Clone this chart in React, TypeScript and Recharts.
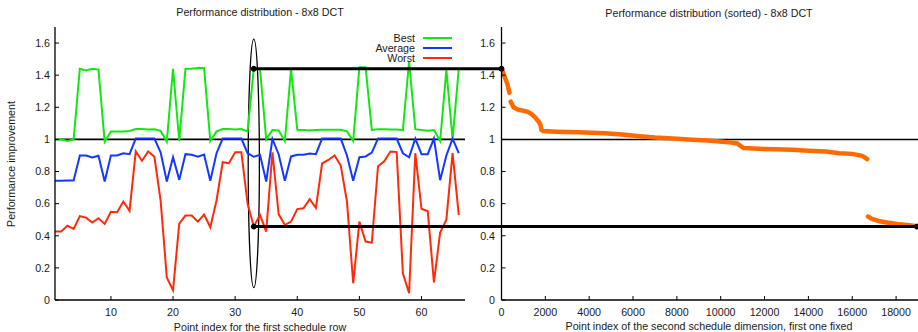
import React from 'react';
import {
  ComposedChart,
  Line,
  XAxis,
  YAxis,
  ReferenceLine,
  ReferenceDot,
  ReferenceArea,
  Legend,
} from 'recharts';

// ---------- data (left panel) ----------
const pointIndex = [
  1, 2, 3, 4, 5, 6, 7, 8, 9, 10, 11, 12, 13, 14, 15, 16, 17, 18, 19, 20, 21, 22,
  23, 24, 25, 26, 27, 28, 29, 30, 31, 32, 33, 34, 35, 36, 37, 38, 39, 40, 41, 42,
  43, 44, 45, 46, 47, 48, 49, 50, 51, 52, 53, 54, 55, 56, 57, 58, 59, 60, 61, 62,
  63, 64, 65, 66,
];
const bestValues = [
  1.0, 1.0, 0.99, 1.0, 1.44, 1.43, 1.44, 1.435, 0.985, 1.05, 1.05, 1.05, 1.052, 1.065,
  1.065, 1.062, 1.063, 1.053, 0.985, 1.44, 0.99, 1.44, 1.44, 1.445, 1.445, 0.99, 1.05,
  1.065, 1.065, 1.062, 1.065, 1.05, 1.44, 1.44, 1.0, 1.058, 1.055, 0.99, 1.44, 1.06,
  1.058, 1.055, 1.058, 1.06, 1.06, 1.06, 1.06, 1.05, 0.99, 1.45, 1.45, 1.058, 1.064,
  1.064, 1.062, 1.062, 1.058, 1.485, 1.064, 1.058, 1.054, 1.058, 0.99, 1.434, 1.0, 1.44,
];
const averageValues = [
  0.742, 0.742, 0.744, 0.744, 0.9, 0.9, 0.887, 0.898, 0.738, 0.9, 0.9, 0.914, 0.908,
  1.005, 1.005, 1.005, 1.005, 0.92, 0.738, 0.889, 0.748, 0.908, 0.904, 0.892, 0.906,
  0.742, 0.914, 1.005, 1.005, 1.005, 1.005, 0.914, 0.892, 0.904, 0.738, 1.003, 0.908,
  0.742, 0.894, 0.904, 0.904, 0.912, 0.908, 1.005, 1.005, 1.005, 1.005, 0.9, 0.742,
  0.889, 0.894, 0.918, 1.005, 1.005, 1.005, 1.005, 0.914, 0.889, 1.005, 0.908, 0.908,
  1.005, 0.746, 0.9, 1.005, 0.914,
];
const worstValues = [
  0.426, 0.426, 0.463, 0.443, 0.522, 0.513, 0.482, 0.509, 0.474, 0.549, 0.547, 0.613,
  0.555, 0.925, 0.867, 0.925, 0.892, 0.62, 0.14, 0.06, 0.475, 0.526, 0.526, 0.488,
  0.532, 0.453, 0.62, 0.858, 0.852, 0.92, 0.92, 0.6, 0.457, 0.53, 0.426, 0.92, 0.535,
  0.467, 0.488, 0.566, 0.571, 0.628, 0.574, 0.85, 0.872, 0.9, 0.837, 0.613, 0.104,
  0.488, 0.364, 0.357, 0.833, 0.864, 0.925, 0.921, 0.166, 0.042, 0.914, 0.568, 0.553,
  0.11, 0.42, 0.5, 0.915, 0.528,
];
const seriesNames = ['Best', 'Average', 'Worst'];
const leftXTicks = [10, 20, 30, 40, 50, 60];
const yTicks = [0, 0.2, 0.4, 0.6, 0.8, 1, 1.2, 1.4, 1.6];

// ---------- data (right panel, sorted) ----------
const sortedIndexHigh = [
  0, 40, 120, 200, 280, 360, 390, 420, 550, 750, 1000, 1200, 1400, 1550, 1700, 1780,
  1820, 1900, 2500, 3500, 4700, 5500, 6300, 7000, 8000, 8700, 9400, 9940, 10500, 10750,
  10900, 11050, 12000, 13270, 14000, 14800, 15400, 16000, 16450, 16600, 16680,
];
const sortedValueHigh = [
  1.44, 1.43, 1.4, 1.37, 1.34, 1.29, null, 1.235, 1.2, 1.185, 1.178, 1.172, 1.155,
  1.135, 1.11, 1.09, 1.06, 1.052, 1.048, 1.044, 1.039, 1.03, 1.02, 1.012, 1.004, 0.998,
  0.993, 0.987, 0.98, 0.975, 0.96, 0.946, 0.94, 0.935, 0.93, 0.925, 0.914, 0.91, 0.898,
  0.885, 0.877,
];
const sortedIndexLow = [16720, 16900, 17200, 17500, 17820, 18200, 18600, 18950];
const sortedValueLow = [0.52, 0.505, 0.492, 0.484, 0.478, 0.471, 0.466, 0.46];
const rightXTicks = [0, 2000, 4000, 6000, 8000, 10000, 12000, 14000, 16000, 18000];

// highlighted point (index 33) and its best / worst values
const markIndex = 33;
const markBest = 1.44;
const markWorst = 0.457;
const ellipseY = [0.077, 1.625];

// ---------- layout ----------
const FONT = '"Liberation Sans", Arial, Helvetica, sans-serif';
const FS = 10.7;
const TXT = '#1a1a1a';
const GREEN = '#14e614';
const BLUE = '#1438ff';
const RED = '#ff2a0a';
const ORANGE = '#ff6a00';

const LEFT_W = 503;
const LEFT_X0 = 55;
const LEFT_X1 = 465;
const LEFT_DOMAIN: [number, number] = [1, 67];
const RIGHT_LEFT = 460;
const RIGHT_W = 458;
const RIGHT_AXIS_W = 41.5;
const RIGHT_DOMAIN: [number, number] = [0, 19000];
const TOP = 27;
const XAXIS_H = 32;
const Y_DOMAIN: [number, number] = [0, 1.7];

// left-panel data coordinate that lies on the right panel's y axis
const rightAxisPx = RIGHT_LEFT + RIGHT_AXIS_W;
const bridgeX =
  LEFT_DOMAIN[0] +
  ((rightAxisPx - LEFT_X0) * (LEFT_DOMAIN[1] - LEFT_DOMAIN[0])) / (LEFT_X1 - LEFT_X0);

const leftRows = pointIndex.map((idx, i) => ({
  idx,
  best: bestValues[i],
  average: averageValues[i],
  worst: worstValues[i],
}));
const highRows = sortedIndexHigh.map((x, i) => ({ x, v: sortedValueHigh[i] }));
const lowRows = sortedIndexLow.map((x, i) => ({ x, v: sortedValueLow[i] }));

const tickStyle = { fill: TXT, fontSize: FS, fontFamily: FONT };
const axisLineStyle = { stroke: '#000', strokeWidth: 1.3 };
const tickLineStyle = { stroke: '#000', strokeWidth: 1 };

const LegendContent = (props: any) => {
  const payload = [...(props.payload || [])].sort(
    (a: any, b: any) => seriesNames.indexOf(a.value) - seriesNames.indexOf(b.value),
  );
  return (
    <div style={{ display: 'flex', flexDirection: 'column', alignItems: 'flex-end' }}>
      {payload.map((e: any) => (
        <div
          key={e.value}
          style={{ display: 'flex', alignItems: 'center', height: 10.4 }}
        >
          <span
            style={{
              fontFamily: FONT,
              fontSize: FS,
              color: TXT,
              lineHeight: '10.4px',
              whiteSpace: 'nowrap',
            }}
          >
            {e.value}
          </span>
          <svg width={29} height={4} style={{ marginLeft: 8, display: 'block' }}>
            <line x1={0} x2={29} y1={2} y2={2} stroke={e.color} strokeWidth={2} />
          </svg>
        </div>
      ))}
    </div>
  );
};

const EllipseShape = (p: any) => (
  <ellipse
    cx={p.x + p.width / 2}
    cy={p.y + p.height / 2}
    rx={Math.abs(p.width) / 2}
    ry={Math.abs(p.height) / 2}
    fill="none"
    stroke="#000"
    strokeWidth={1.3}
  />
);

const textBase: React.CSSProperties = {
  position: 'absolute',
  fontFamily: FONT,
  fontSize: FS,
  color: TXT,
  whiteSpace: 'nowrap',
  transform: 'translate(-50%, -50%)',
  lineHeight: 1,
};

export default function App() {
  return (
    <div
      style={{
        position: 'absolute',
        left: 0,
        top: 0,
        width: 918,
        height: 332,
        overflow: 'hidden',
        background: '#fff',
      }}
    >
      <div style={{ position: 'absolute', left: 0, top: 0 }}>
        <ComposedChart
          width={LEFT_W}
          height={332}
          data={leftRows}
          margin={{ top: TOP, right: LEFT_W - LEFT_X1, bottom: 0, left: 0 }}
        >
          <XAxis
            dataKey="idx"
            type="number"
            domain={LEFT_DOMAIN}
            ticks={leftXTicks}
            allowDataOverflow
            height={XAXIS_H}
            tickSize={-4}
            tickMargin={12}
            tick={tickStyle}
            axisLine={axisLineStyle}
            tickLine={tickLineStyle}
          />
          <XAxis
            xAxisId="top"
            orientation="top"
            type="number"
            domain={LEFT_DOMAIN}
            ticks={leftXTicks}
            allowDataOverflow
            height={0}
            tickSize={-4}
            tick={false}
            axisLine={false}
            tickLine={tickLineStyle}
          />
          <YAxis
            type="number"
            domain={Y_DOMAIN}
            ticks={yTicks}
            allowDataOverflow
            width={LEFT_X0}
            tickSize={-4}
            tickMargin={9}
            tick={tickStyle}
            axisLine={axisLineStyle}
            tickLine={tickLineStyle}
          />
          <YAxis
            yAxisId="right"
            orientation="right"
            type="number"
            domain={Y_DOMAIN}
            ticks={yTicks}
            allowDataOverflow
            width={0}
            tickSize={-4}
            tick={false}
            axisLine={false}
            tickLine={tickLineStyle}
          />
          <ReferenceLine y={1} stroke="#000" strokeWidth={1.7} />
          <Line
            dataKey="best"
            name={seriesNames[0]}
            stroke={GREEN}
            strokeWidth={2}
            dot={false}
            activeDot={false}
            isAnimationActive={false}
          />
          <Line
            dataKey="average"
            name={seriesNames[1]}
            stroke={BLUE}
            strokeWidth={2}
            dot={false}
            activeDot={false}
            isAnimationActive={false}
          />
          <Line
            dataKey="worst"
            name={seriesNames[2]}
            stroke={RED}
            strokeWidth={2}
            dot={false}
            activeDot={false}
            isAnimationActive={false}
          />
          <ReferenceLine
            segment={[
              { x: markIndex, y: markBest },
              { x: bridgeX, y: markBest },
            ]}
            ifOverflow="visible"
            stroke="#000"
            strokeWidth={3}
          />
          <ReferenceLine
            segment={[
              { x: markIndex, y: markWorst },
              { x: bridgeX, y: markWorst },
            ]}
            ifOverflow="visible"
            stroke="#000"
            strokeWidth={3}
          />
          <ReferenceArea
            x1={markIndex - 0.9}
            x2={markIndex + 0.9}
            y1={ellipseY[0]}
            y2={ellipseY[1]}
            ifOverflow="visible"
            shape={EllipseShape}
          />
          <ReferenceDot x={markIndex} y={markBest} r={2.5} fill="#000" stroke="#000" ifOverflow="visible" />
          <ReferenceDot x={markIndex} y={markWorst} r={2.5} fill="#000" stroke="#000" ifOverflow="visible" />
          <Legend
            layout="vertical"
            align="center"
            verticalAlign="middle"
            itemSorter={null as any}
            content={LegendContent}
            wrapperStyle={{ top: 32.5, left: 332, width: 120 }}
          />
        </ComposedChart>
      </div>

      <div style={{ position: 'absolute', left: RIGHT_LEFT, top: 0 }}>
        <ComposedChart
          width={RIGHT_W}
          height={332}
          margin={{ top: TOP, right: 0, bottom: 0, left: 0 }}
        >
          <XAxis
            dataKey="x"
            type="number"
            domain={RIGHT_DOMAIN}
            ticks={rightXTicks}
            allowDataOverflow
            height={XAXIS_H}
            tickSize={-4}
            tickMargin={12}
            tick={tickStyle}
            axisLine={axisLineStyle}
            tickLine={tickLineStyle}
          />
          <XAxis
            xAxisId="top"
            orientation="top"
            type="number"
            domain={RIGHT_DOMAIN}
            ticks={rightXTicks}
            allowDataOverflow
            height={0}
            tickSize={-4}
            tick={false}
            axisLine={false}
            tickLine={tickLineStyle}
          />
          <YAxis
            type="number"
            domain={Y_DOMAIN}
            ticks={yTicks}
            allowDataOverflow
            width={RIGHT_AXIS_W}
            tickSize={-4}
            tickMargin={10.5}
            tick={tickStyle}
            axisLine={axisLineStyle}
            tickLine={tickLineStyle}
          />
          <YAxis
            yAxisId="right"
            orientation="right"
            type="number"
            domain={Y_DOMAIN}
            ticks={yTicks}
            allowDataOverflow
            width={0}
            tickSize={-4}
            tick={false}
            axisLine={false}
            tickLine={tickLineStyle}
          />
          <ReferenceLine y={1} stroke="#000" strokeWidth={1.5} />
          <Line
            data={highRows}
            dataKey="v"
            name="sorted"
            stroke={ORANGE}
            strokeWidth={4.5}
            strokeLinecap="round"
            dot={false}
            activeDot={false}
            isAnimationActive={false}
          />
          <Line
            data={lowRows}
            dataKey="v"
            name="sorted-low"
            stroke={ORANGE}
            strokeWidth={4.5}
            strokeLinecap="round"
            dot={false}
            activeDot={false}
            isAnimationActive={false}
          />
          <ReferenceLine y={markWorst} stroke="#000" strokeWidth={3} />
          <ReferenceDot x={0} y={markBest} r={2.5} fill="#000" stroke="#000" ifOverflow="visible" />
          <ReferenceDot
            x={sortedIndexLow[sortedIndexLow.length - 1]}
            y={markWorst}
            r={2.5}
            fill="#000"
            stroke="#000"
            ifOverflow="visible"
          />
        </ComposedChart>
      </div>

      <div style={{ ...textBase, left: 260, top: 11.5 }}>Performance distribution - 8x8 DCT</div>
      <div style={{ ...textBase, left: 709, top: 12.5 }}>
        Performance distribution (sorted) - 8x8 DCT
      </div>
      <div style={{ ...textBase, left: 260, top: 326.5 }}>Point index for the first schedule row</div>
      <div style={{ ...textBase, left: 709, top: 326 }}>
        Point index of the second schedule dimension, first one fixed
      </div>
      <div style={{ ...textBase, left: 11, top: 163.5, transform: 'translate(-50%, -50%) rotate(-90deg)' }}>
        Performance improvement
      </div>
    </div>
  );
}
